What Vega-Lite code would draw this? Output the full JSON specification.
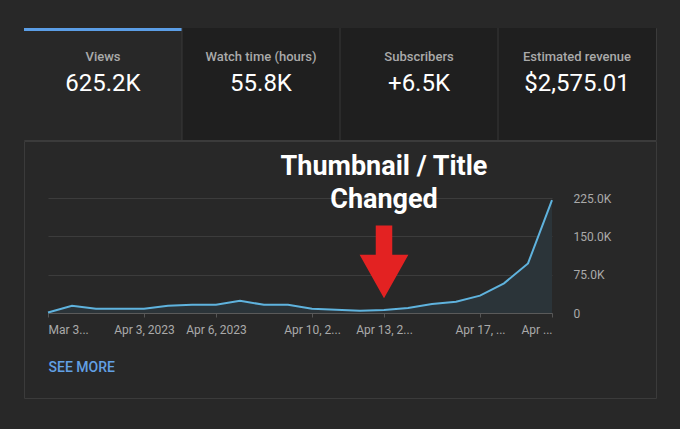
{
  "$schema": "https://vega.github.io/schema/vega-lite/v6.json",
  "background": "#282828",
  "padding": {"left": 23, "top": 27, "right": 23, "bottom": 31},
  "config": {"font": "Roboto", "view": {"stroke": "#3b3b3b", "strokeWidth": 1}},
  "spacing": -2,
  "vconcat": [
    {
      "width": 632,
      "height": 112,
      "data": {"values": [
        {"tab": "Views", "value": "625.2K", "selected": true},
        {"tab": "Watch time (hours)", "value": "55.8K", "selected": false},
        {"tab": "Subscribers", "value": "+6.5K", "selected": false},
        {"tab": "Estimated revenue", "value": "$2,575.01", "selected": false}
      ]},
      "encoding": {
        "x": {"field": "tab", "type": "nominal", "sort": null,
          "scale": {"domain": ["Views", "Watch time (hours)", "Subscribers", "Estimated revenue"], "paddingInner": 0, "paddingOuter": 0},
          "axis": null}
      },
      "layer": [
        {"mark": {"type": "bar"},
         "encoding": {"color": {"condition": {"test": "datum.selected", "value": "#282828"}, "value": "#1f1f1f"}}},
        {"transform": [{"filter": "datum.selected"}],
         "mark": {"type": "bar", "color": "#5b9ee6"},
         "encoding": {"y": {"value": 0}, "y2": {"value": 3}}},
        {"transform": [{"filter": "!datum.selected"}],
         "mark": {"type": "rule", "color": "#383838"},
         "encoding": {"x": {"field": "tab", "type": "nominal", "bandPosition": 0}}},
        {"mark": {"type": "text", "dy": -27, "fontSize": 13, "fontWeight": 500, "color": "#aaaaaa"},
         "encoding": {"text": {"field": "tab"}}},
        {"mark": {"type": "text", "dy": 0, "fontSize": 24, "color": "#ffffff"},
         "encoding": {"text": {"field": "value"}}}
      ]
    },
    {
      "width": 632,
      "height": 257,
      "data": {"values": [
        {"date": "2023-03-30", "views": 1000},
        {"date": "2023-03-31", "views": 14000},
        {"date": "2023-04-01", "views": 8500},
        {"date": "2023-04-02", "views": 8500},
        {"date": "2023-04-03", "views": 8500},
        {"date": "2023-04-04", "views": 14000},
        {"date": "2023-04-05", "views": 16000},
        {"date": "2023-04-06", "views": 16000},
        {"date": "2023-04-07", "views": 24000},
        {"date": "2023-04-08", "views": 16000},
        {"date": "2023-04-09", "views": 16000},
        {"date": "2023-04-10", "views": 8500},
        {"date": "2023-04-11", "views": 6500},
        {"date": "2023-04-12", "views": 4500},
        {"date": "2023-04-13", "views": 6000, "note": ["Thumbnail / Title", "Changed"]},
        {"date": "2023-04-14", "views": 10000},
        {"date": "2023-04-15", "views": 17500},
        {"date": "2023-04-16", "views": 22000},
        {"date": "2023-04-17", "views": 34000},
        {"date": "2023-04-18", "views": 58000},
        {"date": "2023-04-19", "views": 97000},
        {"date": "2023-04-20", "views": 221000}
      ]},
      "encoding": {
        "x": {"field": "date", "type": "temporal",
          "scale": {"type": "utc", "nice": false, "range": [24, 528]},
          "axis": {
            "orient": "bottom", "offset": -85,
            "values": [
              {"year": 2023, "month": 3, "date": 30, "utc": true},
              {"year": 2023, "month": 4, "date": 3, "utc": true},
              {"year": 2023, "month": 4, "date": 6, "utc": true},
              {"year": 2023, "month": 4, "date": 10, "utc": true},
              {"year": 2023, "month": 4, "date": 13, "utc": true},
              {"year": 2023, "month": 4, "date": 17, "utc": true},
              {"year": 2023, "month": 4, "date": 20, "utc": true}
            ],
            "labelExpr": "utcdate(datum.value) == 30 ? 'Mar 3...' : utcdate(datum.value) == 3 ? 'Apr 3, 2023' : utcdate(datum.value) == 6 ? 'Apr 6, 2023' : utcdate(datum.value) == 10 ? 'Apr 10, 2...' : utcdate(datum.value) == 13 ? 'Apr 13, 2...' : utcdate(datum.value) == 17 ? 'Apr 17, ...' : 'Apr ...'",
            "labelFlush": true, "labelOverlap": false,
            "labelColor": "#aaaaaa", "labelFontSize": 12, "labelPadding": 7,
            "tickSize": 4, "tickColor": "#555555", "domainColor": "#5a5a5a",
            "grid": false,
            "title": "SEE MORE", "titleAnchor": "start", "titleAlign": "left",
            "titleColor": "#62a0e4", "titleFontSize": 14, "titleFontWeight": 500,
            "titleY": 54, "titleBaseline": "middle"
          }}
      },
      "layer": [
        {"mark": {"type": "area", "color": "#2b3439"},
         "encoding": {"y": {"field": "views", "type": "quantitative",
           "scale": {"domain": [0, 225000], "range": [172, 57], "nice": false},
           "axis": {"orient": "left", "labels": false, "ticks": false, "domain": false,
             "values": [0, 75000, 150000, 225000], "grid": true, "gridColor": "#3c3c3c", "title": null}}}},
        {"mark": {"type": "line", "color": "#5fb3de", "strokeWidth": 2},
         "encoding": {"y": {"field": "views", "type": "quantitative",
           "axis": {
            "orient": "right", "offset": -104,
            "values": [0, 75000, 150000, 225000],
            "labelExpr": "datum.value == 0 ? '0' : format(datum.value / 1000, '.1f') + 'K'",
            "labelPadding": 21, "labelColor": "#aaaaaa", "labelFontSize": 12,
            "domain": false, "ticks": false, "grid": false, "title": null
          }}}},
        {"transform": [{"filter": "isValid(datum.note)"}],
         "mark": {"type": "point", "shape": "M-0.22,-0.97L0.22,-0.97L0.22,-0.19L0.65,-0.19L0,0.97L-0.65,-0.19L-0.22,-0.19Z",
           "size": 5625, "filled": true, "color": "#e32222", "opacity": 1, "strokeWidth": 0},
         "encoding": {"y": {"datum": 100000, "axis": null}}},
        {"transform": [{"filter": "isValid(datum.note)"}],
         "mark": {"type": "text", "fontSize": 27, "fontWeight": "bold", "color": "#ffffff",
           "baseline": "alphabetic", "align": "center", "dy": -23, "lineHeight": 33},
         "encoding": {"y": {"datum": 225000, "axis": null}, "text": {"field": "note"}}}
      ]
    }
  ]
}
